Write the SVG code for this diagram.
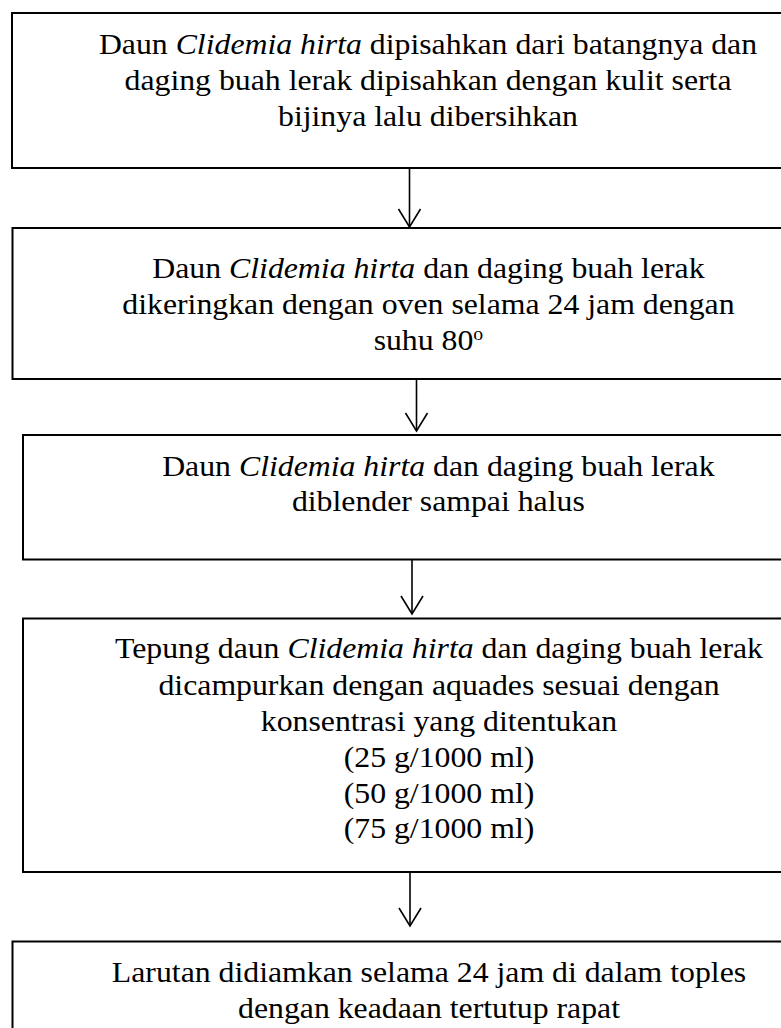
<svg xmlns="http://www.w3.org/2000/svg" width="781" height="1028" viewBox="0 0 781 1028">
<style>
.box{fill:#fff;stroke:#000;stroke-width:2}
.t{font-family:"Liberation Serif","Times New Roman",serif;font-size:28.9px;fill:#000;text-anchor:middle}
.i{font-style:italic}
.conn{fill:none;stroke:#000;stroke-width:1.6}
</style>
<defs>
<marker id="arr" markerUnits="userSpaceOnUse" markerWidth="40" markerHeight="40" refX="0" refY="0" orient="auto" overflow="visible">
<path d="M-18,-11 L0,0 L-18,11" fill="none" stroke="#000" stroke-width="1.6"/>
</marker>
</defs>
<rect width="781" height="1028" fill="#fff"/>
<g id="connectors">
<line class="conn" x1="409.5" y1="168" x2="409.5" y2="227" marker-end="url(#arr)"/>
<line class="conn" x1="416.5" y1="379" x2="416.5" y2="431" marker-end="url(#arr)"/>
<line class="conn" x1="412" y1="560" x2="412" y2="614" marker-end="url(#arr)"/>
<line class="conn" x1="410" y1="872" x2="410" y2="926" marker-end="url(#arr)"/>
</g>
<g id="node1">
<rect class="box" x="12" y="13" width="790" height="155"/>
<g transform="scale(1.1 1)">
<text class="t" x="389.1" y="54">Daun <tspan class="i">Clidemia hirta</tspan> dipisahkan dari batangnya dan</text>
<text class="t" x="389.1" y="90.5">daging buah lerak dipisahkan dengan kulit serta</text>
<text class="t" x="389.1" y="126">bijinya lalu dibersihkan</text>
</g>
</g>
<g id="node2">
<rect class="box" x="12.5" y="228" width="790" height="151"/>
<g transform="scale(1.1 1)">
<text class="t" x="389.5" y="278">Daun <tspan class="i">Clidemia hirta</tspan> dan daging buah lerak</text>
<text class="t" x="389.5" y="314">dikeringkan dengan oven selama 24 jam dengan</text>
<text class="t" x="389.5" y="350">suhu 80<tspan font-size="18" baseline-shift="super">o</tspan></text>
</g>
</g>
<g id="node3">
<rect class="box" x="23" y="435" width="790" height="124.5"/>
<g transform="scale(1.1 1)">
<text class="t" x="398.5" y="476">Daun <tspan class="i">Clidemia hirta</tspan> dan daging buah lerak</text>
<text class="t" x="398.5" y="511">diblender sampai halus</text>
</g>
</g>
<g id="node4">
<rect class="box" x="23" y="618.5" width="790" height="253.5"/>
<g transform="scale(1.1 1)">
<text class="t" x="399.1" y="658">Tepung daun <tspan class="i">Clidemia hirta</tspan> dan daging buah lerak</text>
<text class="t" x="399.1" y="695">dicampurkan dengan aquades sesuai dengan</text>
<text class="t" x="399.1" y="731.5">konsentrasi yang ditentukan</text>
<text class="t" x="399.1" y="767">(25 g/1000 ml)</text>
<text class="t" x="399.1" y="803">(50 g/1000 ml)</text>
<text class="t" x="399.1" y="838.5">(75 g/1000 ml)</text>
</g>
</g>
<g id="node5">
<rect class="box" x="12.5" y="941.5" width="790" height="120"/>
<g transform="scale(1.1 1)">
<text class="t" x="390" y="982">Larutan didiamkan selama 24 jam di dalam toples</text>
<text class="t" x="390" y="1018">dengan keadaan tertutup rapat</text>
</g>
</g>
</svg>
